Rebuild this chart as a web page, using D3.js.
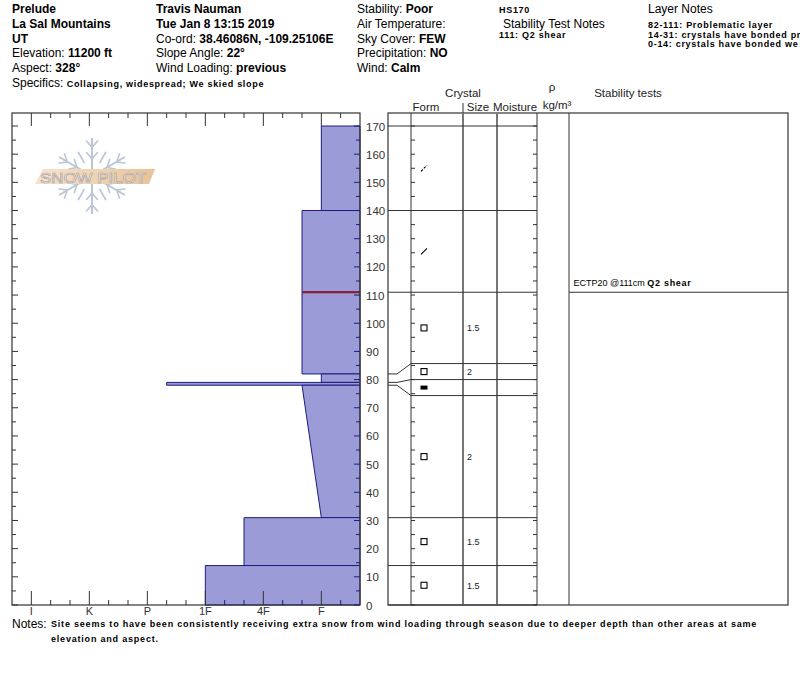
<!DOCTYPE html>
<html><head><meta charset="utf-8">
<script src="https://cdn.jsdelivr.net/npm/d3@7"></script>
<style>
body{margin:0;background:#fff}
svg{display:block}
text{font-family:"Liberation Sans",Arial,sans-serif}
.sb{font-weight:bold;font-size:9px;letter-spacing:0.7px}
.nb{font-weight:bold;font-size:9px;letter-spacing:0.8px}
</style>
</head><body><svg id="c" width="800" height="676"></svg>
<script>
// ---- data ----
const layerTop    = [170, 140, 111, 82, 79, 78, 31, 14];
const layerBottom = [140, 111, 82, 79, 78, 31, 14, 0];
const hardTop     = ['F', 'F+', 'F+', 'F', 'P-', 'F+', '4F+', '1F'];
const hardBottom  = ['F', 'F+', 'F+', 'F', 'P-', 'F', '4F+', '1F'];
const crystalForm = ['DF', 'DF', 'FC', 'FC', 'MFcr', 'FC', 'FC', 'FC'];
const crystalSize = ['', '', '1.5', '2', '', '2', '1.5', '1.5'];
const hardnessLabels = ['I', 'K', 'P', '1F', '4F', 'F'];
const depthTicks = d3.range(0, 171, 10);
const testDepth = [111];
const testCode  = ['ECTP20 @111cm'];
const testShear = ['Q2 shear'];

const svg = d3.select('#c');

// ---- header ----
function line(x, y, parts, size, cls) {
  const t = svg.append('text').attr('x', x).attr('y', y).attr('font-size', size || 12).attr('fill', '#000');
  parts.forEach(p => {
    const ts = t.append('tspan').text(p[0]);
    if (p[1] === 'b') ts.attr('font-weight', 'bold');
    if (p[1] === 's') ts.attr('class', cls || 'sb');
  });
}
line(12, 13, [['Prelude', 'b']]);
line(12, 28, [['La Sal Mountains', 'b']]);
line(12, 42.5, [['UT', 'b']]);
line(12, 57, [['Elevation: '], ['11200 ft', 'b']]);
line(12, 71.5, [['Aspect: '], ['328°', 'b']]);
line(12, 86.5, [['Specifics: '], ['Collapsing, widespread; We skied slope', 's']]);

line(156, 13, [['Travis Nauman', 'b']]);
line(156, 28, [['Tue Jan 8 13:15 2019', 'b']]);
line(156, 42.5, [['Co-ord: '], ['38.46086N, -109.25106E', 'b']]);
line(156, 57, [['Slope Angle: '], ['22°', 'b']]);
line(156, 71.5, [['Wind Loading: '], ['previous', 'b']]);

line(357, 13, [['Stability: '], ['Poor', 'b']]);
line(357, 28, [['Air Temperature:']]);
line(357, 42.5, [['Sky Cover: '], ['FEW', 'b']]);
line(357, 57, [['Precipitation: '], ['NO', 'b']]);
line(357, 71.5, [['Wind:  '], ['Calm', 'b']]);

line(499, 13, [['HS170', 's']]);
line(503, 27.5, [['Stability Test Notes']]);
line(499, 37.5, [['111: Q2 shear', 's']]);

line(648, 13, [['Layer Notes']]);
line(648, 27.5, [['82-111: Problematic layer', 's']]);
line(648, 37.5, [['14-31: crystals have bonded pr', 's']]);
line(648, 47, [['0-14: crystals have bonded we', 's']]);

// ---- scales ----
const y = d3.scaleLinear().domain([0, 170]).range([605, 126]);
const x = d3.scaleLinear().domain([-1/3, 5 + 2/3]).range([12, 360]);
function hIndex(h) {
  let base = h.replace(/[+-]$/, '');
  let v = hardnessLabels.indexOf(base);
  if (h.endsWith('+')) v -= 1/3;
  if (h.endsWith('-')) v += 1/3;
  return v;
}
const X0 = 12, X1 = 360, YT = 113, YB = 605;

// ---- watermark logo ----
const logo = svg.append('g');
const cx = 92, cy = 176;
[90, 30, 150, 210, 270, 330].forEach(a => {
  const r = a * Math.PI / 180, L = 38;
  const ex = cx + L * Math.cos(r), ey = cy - L * Math.sin(r);
  logo.append('line').attr('x1', cx).attr('y1', cy).attr('x2', ex).attr('y2', ey)
    .attr('stroke', '#b9c6d4').attr('stroke-width', 2);
  [0.45, 0.75].forEach(f => {
    const px = cx + L * f * Math.cos(r), py = cy - L * f * Math.sin(r);
    [-1, 1].forEach(s => {
      const b = r + s * 0.7, bl = 9;
      logo.append('line').attr('x1', px).attr('y1', py)
        .attr('x2', px + bl * Math.cos(b)).attr('y2', py - bl * Math.sin(b))
        .attr('stroke', '#b9c6d4').attr('stroke-width', 1.6);
    });
  });
});
[60, 120, 240, 300].forEach(a => {
  const r = a * Math.PI / 180;
  logo.append('line').attr('x1', cx + 15 * Math.cos(r)).attr('y1', cy - 15 * Math.sin(r))
    .attr('x2', cx + 28 * Math.cos(r)).attr('y2', cy - 28 * Math.sin(r))
    .attr('stroke', '#b9c6d4').attr('stroke-width', 1.6);
});
const grad = svg.append('defs').append('linearGradient').attr('id', 'bg');
grad.append('stop').attr('offset', '0').attr('stop-color', '#f5e2cc');
grad.append('stop').attr('offset', '1').attr('stop-color', '#e9c398');
logo.append('polygon').attr('points', '35,184 43,169 155,169 149,184').attr('fill', 'url(#bg)');
logo.append('text').attr('x', 40).attr('y', 182.5).attr('font-size', 15).attr('font-family', 'DejaVu Sans')
  .attr('textLength', 106).attr('lengthAdjust', 'spacingAndGlyphs')
  .attr('fill', '#fff').attr('stroke', '#a8a0a0').attr('stroke-width', 0.7).text('SNOW PILOT');

// ---- hardness bars ----
const fill = '#9b9bd8', navy = '#1c1c80';
const bars = svg.append('g');
layerTop.forEach((t, i) => {
  const b = layerBottom[i];
  const pts = [[x(hIndex(hardTop[i])), y(t)], [X1, y(t)], [X1, y(b)], [x(hIndex(hardBottom[i])), y(b)]];
  bars.append('polygon').attr('points', pts.map(p => p.join(',')).join(' '))
    .attr('fill', fill).attr('stroke', navy).attr('stroke-width', 1);
});
// stability test marker
testDepth.forEach(d => {
  const i = layerTop.findIndex((t, k) => d <= t && d >= layerBottom[k]);
  svg.append('line').attr('x1', x(hIndex(hardTop[i]))).attr('x2', X1)
    .attr('y1', y(d)).attr('y2', y(d)).attr('stroke', '#8b1a2a').attr('stroke-width', 2);
});

// ---- frame & ticks of hardness plot ----
const ax = svg.append('g').attr('stroke', '#333').attr('fill', 'none');
ax.append('rect').attr('x', X0).attr('y', YT).attr('width', X1 - X0).attr('height', YB - YT).attr('stroke-width', 1.2);
const sub = d3.range(0, 17).map(k => k / 3);
sub.forEach(v => {
  const major = Math.abs(v - Math.round(v)) < 1e-6;
  const xx = x(v);
  ax.append('line').attr('x1', xx).attr('x2', xx).attr('y1', YT).attr('y2', YT + (major ? 13 : 5));
  ax.append('line').attr('x1', xx).attr('x2', xx).attr('y1', YB).attr('y2', YB - (major ? 14 : 5)).attr('stroke', major || xx < 205 ? '#333' : navy);
});
d3.range(0, 171, 5).forEach(d => {
  const major = d % 10 === 0;
  ax.append('line').attr('x1', X0).attr('x2', X0 + (major ? 6 : 4)).attr('y1', y(d)).attr('y2', y(d));
  ax.append('line').attr('x1', X1).attr('x2', X1 - (major ? 6 : 4)).attr('y1', y(d)).attr('y2', y(d)).attr('stroke', navy);
});
hardnessLabels.forEach((h, i) => {
  svg.append('text').attr('x', x(i)).attr('y', 615).attr('text-anchor', 'middle')
    .attr('font-size', 11).attr('fill', '#333').text(h);
});
depthTicks.forEach(d => {
  svg.append('text').attr('x', 366).attr('y', y(d) + 4.5).attr('font-size', 11.5).attr('fill', '#333').text(d);
});

// ---- crystal table ----
const T0 = 388, TF = 411, TS = 463, TM = 497, TD = 537, TST = 569, T1 = 788;
const tg = svg.append('g').attr('fill', 'none');
tg.append('rect').attr('x', T0).attr('y', YT).attr('width', T1 - T0).attr('height', YB - YT).attr('stroke', '#333').attr('stroke-width', 1.2);
[TF, TD, TST].forEach(xx => tg.append('line').attr('x1', xx).attr('x2', xx).attr('y1', YT).attr('y2', YB).attr('stroke', '#333'));
[TS, TM].forEach(xx => tg.append('line').attr('x1', xx).attr('x2', xx).attr('y1', YT).attr('y2', YB).attr('stroke', '#777').attr('stroke-width', 2));
tg.append('line').attr('x1', TS).attr('x2', TS).attr('y1', 103).attr('y2', YT).attr('stroke', '#333');
d3.range(0, 171, 5).forEach(d => {
  tg.append('line').attr('x1', TF).attr('x2', TF + 4).attr('y1', y(d)).attr('y2', y(d)).attr('stroke', '#333');
  tg.append('line').attr('x1', TD).attr('x2', TD - 4).attr('y1', y(d)).attr('y2', y(d)).attr('stroke', '#333');
});

// display (spread) boundary positions
const bounds = [layerTop[0]].concat(layerBottom);
const realY = bounds.map(d => y(d));
const dispY = realY.slice();
const minH = 16;
let i = 0;
while (i < bounds.length - 1) {
  if (realY[i + 1] - realY[i] < minH) {
    let j = i;
    while (j < bounds.length - 1 && realY[j + 1] - realY[j] < minH) j++;
    const c = (realY[i] + realY[j]) / 2, n = j - i;
    for (let k = i; k <= j; k++) dispY[k] = c - n * minH / 2 + (k - i) * minH;
    i = j;
  } else i++;
}
bounds.forEach((d, k) => {
  if (k === 0 || k === bounds.length - 1) {
    tg.append('line').attr('x1', T0).attr('x2', TD).attr('y1', realY[k]).attr('y2', realY[k]).attr('stroke', '#333');
    return;
  }
  tg.append('path').attr('d', `M${T0},${realY[k]}L${T0 + 9},${realY[k]}L${TF},${dispY[k]}L${TD},${dispY[k]}`)
    .attr('stroke', '#333');
});
// forms and sizes
crystalForm.forEach((f, k) => {
  const my = (dispY[k] + dispY[k + 1]) / 2, fx = 424;
  if (f === 'FC') {
    tg.append('rect').attr('x', fx - 3).attr('y', my - 3).attr('width', 6).attr('height', 6).attr('stroke', '#000').attr('stroke-width', 1.1);
  } else if (f === 'MFcr') {
    svg.append('rect').attr('x', fx - 3.5).attr('y', my - 2).attr('width', 7).attr('height', 4).attr('fill', '#000');
  } else if (f === 'DF') {
    tg.append('line').attr('x1', fx - 3).attr('y1', my + 3).attr('x2', fx + 3).attr('y2', my - 3).attr('stroke', '#000').attr('stroke-width', 1.1)
      .attr('stroke-dasharray', k === 0 ? '2.5,1.5' : null);
  }
  if (crystalSize[k]) svg.append('text').attr('x', 467).attr('y', my + 3.5).attr('font-size', 9).attr('fill', '#222').text(crystalSize[k]);
});
// stability tests
testDepth.forEach((d, k) => {
  tg.append('line').attr('x1', TST).attr('x2', T1).attr('y1', y(d)).attr('y2', y(d)).attr('stroke', '#333');
  const t = svg.append('text').attr('x', 573.5).attr('y', y(d) - 6).attr('font-size', 9).attr('fill', '#000');
  t.append('tspan').text(testCode[k] + '  ');
  t.append('tspan').attr('class', 'sb').attr('font-size', 9).text(testShear[k]);
});
// table headers
const hdr = [['Crystal', 463, 97], ['Form', 426, 110.5], ['Size', 478, 110.5], ['Moisture', 515, 110.5], ['ρ', 552, 91], ['kg/m³', 557, 108.5], ['Stability tests', 628, 97]];
hdr.forEach(h => svg.append('text').attr('x', h[1]).attr('y', h[2]).attr('text-anchor', 'middle').attr('font-size', 11.5).attr('fill', '#222').text(h[0]));

// ---- notes ----
line(12, 628, [['Notes:']], 12);
line(51, 627, [['Site seems to have been consistently receiving extra snow from wind loading through season due to deeper depth than other areas at same', 's']], 12, 'nb');
line(51, 642, [['elevation and aspect.', 's']], 12, 'nb');
</script></body></html>
